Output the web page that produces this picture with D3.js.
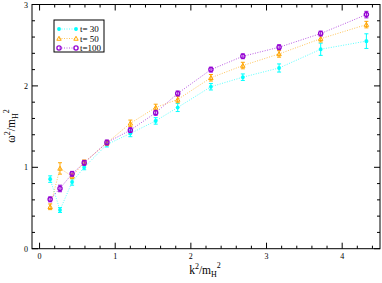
<!DOCTYPE html>
<html><head><meta charset="utf-8">
<script src="https://cdn.jsdelivr.net/npm/d3@7"></script>
<style>body{margin:0;background:#fff}svg{display:block}text{font-family:"Liberation Serif","DejaVu Serif",serif}</style>
</head><body><svg id="c" width="382" height="283"></svg>
<script>
const kx = [0.14, 0.27, 0.43, 0.59, 0.89, 1.2, 1.535, 1.826, 2.265, 2.687, 3.166, 3.716, 4.32];
const t30 = [0.855, 0.475, 0.82, 1.0, 1.28, 1.416, 1.57, 1.735, 1.99, 2.107, 2.22, 2.45, 2.55];
const t30err = [0.04, 0.03, 0.04, 0.03, 0.03, 0.04, 0.04, 0.05, 0.04, 0.04, 0.05, 0.075, 0.09];
const t50 = [0.515, 0.986, 0.89, 1.06, 1.3, 1.54, 1.735, 1.833, 2.10, 2.25, 2.393, 2.58, 2.753];
const t50err = [0.035, 0.07, 0.03, 0.03, 0.03, 0.04, 0.04, 0.04, 0.04, 0.04, 0.04, 0.04, 0.04];
const t100 = [0.606, 0.74, 0.92, 1.055, 1.305, 1.456, 1.67, 1.907, 2.2, 2.364, 2.475, 2.643, 2.876];
const t100err = [0.03, 0.04, 0.03, 0.03, 0.03, 0.03, 0.03, 0.03, 0.03, 0.03, 0.03, 0.03, 0.04];
const seriesNames = ["t= 30", "t= 50", "t=100"];
const seriesColors = ["#00ffff", "#ffa500", "#9400d3"];
const xTicks = [0, 1, 2, 3, 4];
const yTicks = [0, 1, 2, 3];

const svg = d3.select("#c");
const L = 32, R = 380, T = 4.5, B = 248.7;
const x = d3.scaleLinear().domain([-0.1, 4.5]).range([L, R]);
const y = d3.scaleLinear().domain([0, 3]).range([B, T]);

const series = [
  {name: seriesNames[0], color: seriesColors[0], v: t30, e: t30err, sym: "star"},
  {name: seriesNames[1], color: seriesColors[1], v: t50, e: t50err, sym: "tri"},
  {name: seriesNames[2], color: seriesColors[2], v: t100, e: t100err, sym: "circ"}
];

function drawSym(g, sym, cx, cy, color) {
  if (sym === "circ") {
    g.append("circle").attr("cx", cx).attr("cy", cy).attr("r", 2.1)
      .attr("fill", "none").attr("stroke", color).attr("stroke-width", 1.3);
  } else if (sym === "tri") {
    const s = 2.2;
    g.append("path").attr("d", `M${cx},${cy - s}L${cx + s},${cy + s * 0.8}L${cx - s},${cy + s * 0.8}Z`)
      .attr("fill", "none").attr("stroke", color).attr("stroke-width", 1);
  } else {
    const s = 2;
    g.append("path").attr("d", `M${cx - s},${cy}H${cx + s}M${cx},${cy - s}V${cy + s}M${cx - s * 0.7},${cy - s * 0.7}L${cx + s * 0.7},${cy + s * 0.7}M${cx - s * 0.7},${cy + s * 0.7}L${cx + s * 0.7},${cy - s * 0.7}`)
      .attr("fill", "none").attr("stroke", color).attr("stroke-width", 1.1);
  }
}

// series
series.forEach(s => {
  const g = svg.append("g");
  const pts = kx.map((k, i) => [k, s.v[i], s.e[i]]);
  g.append("path").datum(pts)
    .attr("d", d3.line().x(d => x(d[0])).y(d => y(d[1])))
    .attr("fill", "none").attr("stroke", s.color).attr("stroke-width", 1)
    .attr("stroke-opacity", 0.65).attr("stroke-dasharray", "1,1.5");
  pts.forEach(d => {
    const cx = x(d[0]), y1 = y(d[1] - d[2]), y2 = y(d[1] + d[2]);
    g.append("path").attr("d", `M${cx},${y1}V${y2}M${cx - 2},${y1}H${cx + 2}M${cx - 2},${y2}H${cx + 2}`)
      .attr("stroke", s.color).attr("stroke-width", 1).attr("fill", "none");
    drawSym(g, s.sym, cx, y(d[1]), s.color);
  });
});

// frame
svg.append("rect").attr("x", L).attr("y", T).attr("width", R - L).attr("height", B - T)
  .attr("fill", "none").attr("stroke", "#000").attr("stroke-width", 1);

const ax = svg.append("g").attr("stroke", "#000").attr("stroke-width", 1);
const xMinor = d3.range(0, 4.51, 0.2).filter(v => Math.abs(v - Math.round(v)) > 1e-6);
const yMinor = d3.range(0.2, 3, 0.2).filter(v => Math.abs(v - Math.round(v)) > 1e-6);
xTicks.forEach(v => {
  ax.append("line").attr("x1", x(v)).attr("x2", x(v)).attr("y1", B).attr("y2", B - 6);
  ax.append("line").attr("x1", x(v)).attr("x2", x(v)).attr("y1", T).attr("y2", T + 6);
});
xMinor.forEach(v => {
  ax.append("line").attr("x1", x(v)).attr("x2", x(v)).attr("y1", B).attr("y2", B - 3);
  ax.append("line").attr("x1", x(v)).attr("x2", x(v)).attr("y1", T).attr("y2", T + 3);
});
yTicks.forEach(v => {
  ax.append("line").attr("x1", L).attr("x2", L + 6).attr("y1", y(v)).attr("y2", y(v));
  ax.append("line").attr("x1", R).attr("x2", R - 6).attr("y1", y(v)).attr("y2", y(v));
});
yMinor.forEach(v => {
  ax.append("line").attr("x1", L).attr("x2", L + 3).attr("y1", y(v)).attr("y2", y(v));
  ax.append("line").attr("x1", R).attr("x2", R - 3).attr("y1", y(v)).attr("y2", y(v));
});

xTicks.forEach(v => svg.append("text").attr("x", x(v)).attr("y", 259).attr("text-anchor", "middle")
  .attr("font-size", 8).text(v));
yTicks.forEach(v => svg.append("text").attr("x", L - 4).attr("y", y(v) + 3).attr("text-anchor", "end")
  .attr("font-size", 8).text(v));

// axis labels
const xl = svg.append("text").attr("x", 205).attr("y", 274).attr("text-anchor", "middle").attr("font-size", 11.5);
xl.append("tspan").text("k");
xl.append("tspan").attr("dy", -5).attr("font-size", 8).text("2");
xl.append("tspan").attr("dy", 5).text("/m");
xl.append("tspan").attr("dy", 3).attr("font-size", 8).text("H");
xl.append("tspan").attr("dy", -9).attr("font-size", 8).text("2");

const yl = svg.append("text").attr("transform", "translate(15,126) rotate(-90)")
  .attr("text-anchor", "middle").attr("font-size", 11.5);
yl.append("tspan").text("ω");
yl.append("tspan").attr("dy", -5).attr("font-size", 8).text("2");
yl.append("tspan").attr("dy", 5).text("/m");
yl.append("tspan").attr("dy", 3).attr("font-size", 8).text("H");
yl.append("tspan").attr("dy", -9).attr("font-size", 8).text("2");

// legend
const lg = svg.append("g");
lg.append("rect").attr("x", 54).attr("y", 20).attr("width", 50).attr("height", 32)
  .attr("fill", "#fff").attr("stroke", "#000").attr("stroke-width", 1);
series.forEach((s, i) => {
  const ly = 29 + i * 9.5;
  lg.append("line").attr("x1", 59).attr("x2", 76).attr("y1", ly).attr("y2", ly)
    .attr("stroke", s.color).attr("stroke-width", 1).attr("stroke-opacity", 0.65).attr("stroke-dasharray", "1,1.5");
  drawSym(lg, s.sym, 59, ly, s.color);
  drawSym(lg, s.sym, 76, ly, s.color);
  lg.append("text").attr("x", 80).attr("y", ly + 3).attr("font-size", 9).text(s.name)
    .attr("xml:space", "preserve").style("white-space", "pre");
});
</script></body></html>
